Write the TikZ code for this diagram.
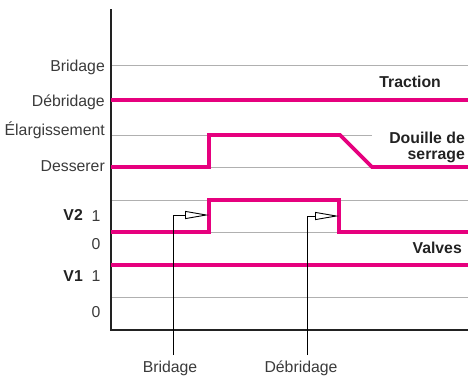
\documentclass[tikz,border=0pt]{standalone}
\usepackage{fontspec}
\setmainfont{Liberation Sans}
\usetikzlibrary{arrows.meta}
\definecolor{mag}{HTML}{E6007E}
\definecolor{gridc}{HTML}{B0B0B0}
\definecolor{ink}{HTML}{3A3A3A}
\definecolor{inkb}{HTML}{222222}
\begin{document}
\begin{tikzpicture}[x=1bp,y=-1bp,
  gridline/.style={draw=gridc, line width=0.9bp},
  signal/.style={draw=mag, line width=3.6bp, line join=miter},
  axisline/.style={draw=inkb, line width=1.3bp},
  lab/.style={font=\fontsize{15.8bp}{18bp}\selectfont, text=ink, inner sep=0pt},
  blab/.style={font=\fontsize{15.8bp}{18bp}\selectfont\bfseries, text=inkb, inner sep=0pt},
  pointer/.style={draw=black, line width=0.9bp, -{Triangle[open, length=24bp, width=8bp]}}]
\useasboundingbox (0,0) rectangle (468,376);

% grid lines
\draw[gridline] (111,65) -- (468,65);
\draw[gridline] (111,135) -- (372,135);
\draw[gridline] (111,167) -- (468,167);
\draw[gridline] (111,200) -- (468,200);
\draw[gridline] (111,232) -- (468,232);
\draw[gridline] (111,297) -- (468,297);

% axes
\coordinate (axTop) at (111,9);
\coordinate (axOrig) at (111,330);
\coordinate (axRight) at (468,330);
\draw[axisline] (axTop) -- (axOrig) -- (axRight);

% signals
\draw[signal] (111,100) -- (468,100);
\draw[signal] (111,167) -- (209,167) -- (209,135) -- (340,135) -- (372,167) -- (468,167);
\draw[signal] (111,232) -- (209,232) -- (209,200) -- (339,200) -- (339,232) -- (468,232);
\draw[signal] (111,265) -- (468,265);

% left labels
\node[lab, anchor=base east] (lBrid) at (105,71) {Bridage};
\node[lab, anchor=base east] (lDebr) at (105,106) {Débridage};
\node[lab, anchor=base east] (lElar) at (105,135) {Élargissement};
\node[lab, anchor=base east] (lDess) at (105,171) {Desserer};

\node[blab, anchor=base east] (lV2) at (83,220) {V2};
\node[lab, anchor=base] (lV2a) at (96,221) {1};
\node[lab, anchor=base] (lV2b) at (96,249) {0};
\node[blab, anchor=base east] (lV1) at (83,281) {V1};
\node[lab, anchor=base] (lV1a) at (96,281) {1};
\node[lab, anchor=base] (lV1b) at (96,317) {0};

% right labels
\node[blab, anchor=base east] (rTrac) at (441,87) {Traction};
\node[blab, anchor=base east] (rDou1) at (465,143) {Douille de};
\node[blab, anchor=base east] (rDou2) at (465,159) {serrage};
\node[blab, anchor=base east] (rValv) at (462,253) {Valves};

% bottom labels
\node[lab, anchor=base] (bBrid) at (170,372) {Bridage};
\node[lab, anchor=base] (bDebr) at (301,372) {Débridage};

% pointers
\coordinate (pBfoot) at (173,355);
\coordinate (pBtip) at (209,215);
\coordinate (pDfoot) at (307,355);
\coordinate (pDtip) at (339,216);
\draw[pointer] (pBfoot) |- (pBtip);
\draw[pointer] (pDfoot) |- (pDtip);
\end{tikzpicture}
\end{document}
